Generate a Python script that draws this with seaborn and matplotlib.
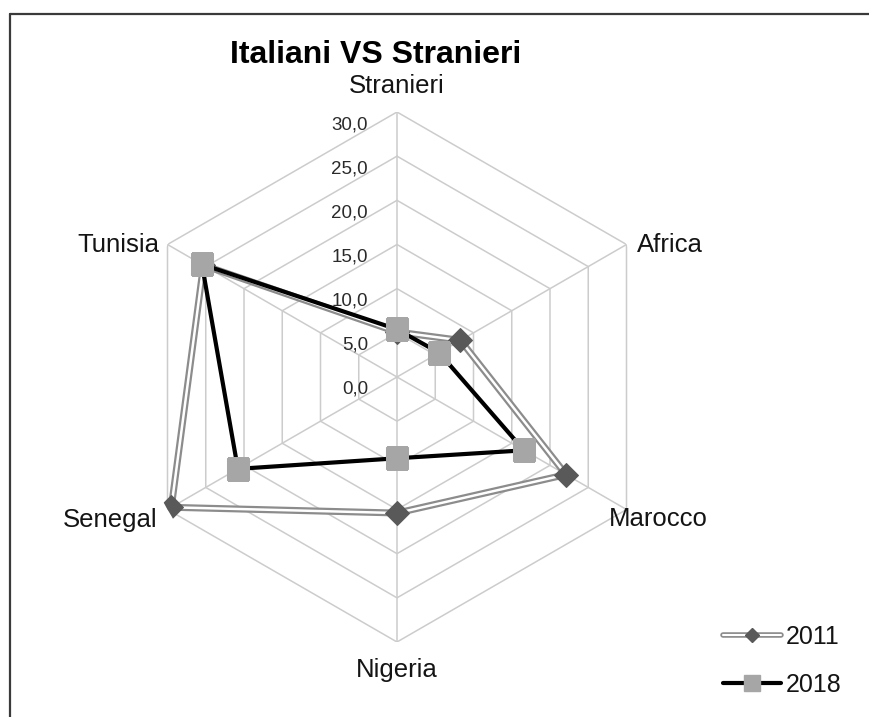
import numpy as np
import pandas as pd
import matplotlib
matplotlib.use("Agg")
import matplotlib.pyplot as plt
import seaborn as sns
from matplotlib.lines import Line2D
from matplotlib.legend_handler import HandlerTuple
from matplotlib.transforms import offset_copy

# ---- data -------------------------------------------------------------
categories = ["Stranieri", "Africa", "Marocco", "Nigeria", "Senegal", "Tunisia"]
values_2011 = [5.1, 8.3, 22.1, 15.4, 29.5, 25.3]
values_2018 = [5.4, 5.5, 16.6, 9.2, 20.8, 25.5]
years = ["2011", "2018"]
radial_ticks = [0, 5, 10, 15, 20, 25, 30]
radial_labels = ["0,0", "5,0", "10,0", "15,0", "20,0", "25,0", "30,0"]
title = "Italiani VS Stranieri"

# ---- style ------------------------------------------------------------
sns.set_style("white")
plt.rcParams["font.family"] = ["Liberation Sans", "DejaVu Sans"]

GRID = "#cccccc"
OUTER_2011 = "#8c8c8c"
DIAMOND = "#595959"
SQUARE = "#a6a6a6"
TEXT = "#141414"

W, H = 869, 717
fig = plt.figure(figsize=(W / 100, H / 100), dpi=100)
fig.patch.set_facecolor("white")

# polar axes: centre at (397, 377) px, radius 265 px
cx, cy, R = 397, 377, 265
ax = fig.add_axes([(cx - R) / W, (H - cy - R) / H, 2 * R / W, 2 * R / H],
                  projection="polar")
ax.set_theta_offset(np.pi / 2)
ax.set_theta_direction(-1)
ax.patch.set_alpha(0)
ax.spines["polar"].set_visible(False)
ax.grid(False)
ax.set_xticks([])
ax.set_yticks([])

n = len(categories)
theta = np.arange(n) * 2 * np.pi / n
theta_closed = np.append(theta, 2 * np.pi)

# hexagonal grid and spokes
for r in radial_ticks[1:]:
    ax.plot(theta_closed, [r] * (n + 1), color=GRID, lw=1.1, zorder=1)
for t in theta:
    ax.plot([t, t], [0, radial_ticks[-1]], color=GRID, lw=1.1, zorder=1)
ax.set_ylim(0, radial_ticks[-1])

# long-form table for the two series
frames = []
for year, vals in zip(years, [values_2011, values_2018]):
    closed = list(vals) + [vals[0]]
    frames.append(pd.DataFrame({"theta": theta_closed, "value": closed,
                                "year": year, "cat": categories + [categories[0]]}))
df = pd.concat(frames, ignore_index=True)
d11 = df[df.year == "2011"]
d18 = df[df.year == "2018"]

# 2011: double (outlined) line with dark diamonds
sns.lineplot(data=d11, x="theta", y="value", sort=False, estimator=None,
             color=OUTER_2011, lw=5.0, legend=False, ax=ax, zorder=3)
sns.lineplot(data=d11, x="theta", y="value", sort=False, estimator=None,
             color="white", lw=1.8, legend=False, ax=ax, zorder=3.1)
sns.lineplot(data=d11.iloc[:-1], x="theta", y="value", sort=False, estimator=None,
             marker="D", markersize=12, color=DIAMOND, markeredgecolor=DIAMOND,
             linestyle="none", legend=False, ax=ax, zorder=3.2)

# 2018: thick black line with light grey squares
sns.lineplot(data=d18, x="theta", y="value", sort=False, estimator=None,
             color="black", lw=3.0, legend=False, ax=ax, zorder=4)
sns.lineplot(data=d18.iloc[:-1], x="theta", y="value", sort=False, estimator=None,
             marker="s", markersize=16, color=SQUARE, markeredgecolor=SQUARE,
             linestyle="none", legend=False, ax=ax, zorder=4.1)

ax.set_xlabel("")
ax.set_ylabel("")
ax.set_ylim(0, radial_ticks[-1])

# radial value labels, to the left of the vertical spoke
tick_tr = offset_copy(ax.transData, fig=fig, x=-29, y=-17, units="dots")
for r, lab in zip(radial_ticks, radial_labels):
    ax.text(0, r, lab, transform=tick_tr, ha="right", va="baseline",
            fontsize=13.5, color="#2a2a2a")

# category labels placed around the outer vertices (pixel offsets)
label_offsets = [(0, 19), (43, -7), (32, -17), (0, -35), (-57, -17), (-49, -8)]
for t, cat, (dx, dy) in zip(theta, categories, label_offsets):
    tr = offset_copy(ax.transData, fig=fig, x=dx, y=dy, units="dots")
    ax.text(t, radial_ticks[-1], cat, transform=tr, ha="center", va="baseline",
            fontsize=18.5, color=TEXT)

fig.text(376 / W, 1 - 63 / H, title, ha="center", va="baseline",
         fontsize=23, fontweight="bold", color="black")

# legend
h11 = (Line2D([], [], color=OUTER_2011, lw=4.0, solid_capstyle="round"),
       Line2D([], [], color="white", lw=1.5, solid_capstyle="round"),
       Line2D([], [], color=DIAMOND, marker="D", markersize=7.5, linestyle="none"))
h18 = (Line2D([], [], color="black", lw=3.0, solid_capstyle="round"),
       Line2D([], [], color=SQUARE, marker="s", markersize=11, linestyle="none"))
fig.legend([h11, h18], years, handler_map={tuple: HandlerTuple(ndivide=1)},
           loc="center left", bbox_to_anchor=(723 / W, 1 - 661 / H),
           frameon=False, fontsize=18, handlelength=2.3, handletextpad=0.2,
           labelspacing=0.95, borderpad=0, borderaxespad=0, numpoints=1,
           labelcolor=TEXT)

# outer frame (left and top edges)
fig.add_artist(Line2D([9.5 / W, 9.5 / W], [0, 1 - 13.5 / H],
                      transform=fig.transFigure, color="#3a3a3a", lw=1.6))
fig.add_artist(Line2D([9.5 / W, 1], [1 - 13.5 / H, 1 - 13.5 / H],
                      transform=fig.transFigure, color="#3a3a3a", lw=1.6))

fig.savefig("out.png", dpi=100)
